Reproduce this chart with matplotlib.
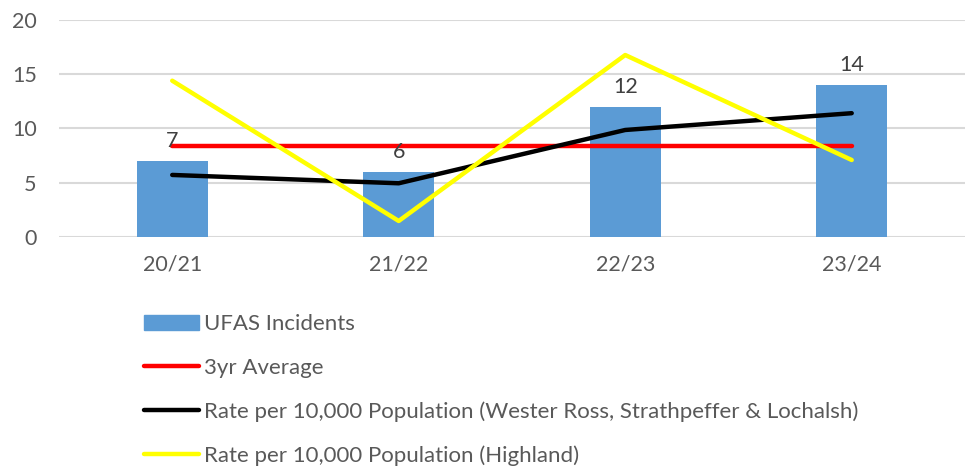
import matplotlib.pyplot as plt
import numpy as np
from matplotlib.patches import Patch
from matplotlib.lines import Line2D

plt.rcParams["font.family"] = ["Lato", "DejaVu Sans"]

years = ["20/21", "21/22", "22/23", "23/24"]
ufas = [7, 6, 12, 14]
avg_3yr = [8.33, 8.33, 8.33, 8.33]
rate_local = [5.7, 4.93, 9.85, 11.4]
rate_highland = [14.4, 1.45, 16.77, 7.08]

grey = "#595959"
fig = plt.figure(figsize=(9.7, 4.7), dpi=100)
ax = fig.add_axes([0.0608, 0.4964, 0.934, 0.461])

x = np.arange(len(years))
bars = ax.bar(x, ufas, width=0.313, color="#5B9BD5", zorder=2)
for xi, v in zip(x, ufas):
    ax.annotate(str(v), (xi, v), xytext=(0, 7), textcoords="offset points",
                ha="center", va="bottom", fontsize=15.5, color="#404040", zorder=5)

ax.plot(x, avg_3yr, color="#FF0000", lw=3.2, solid_capstyle="round", zorder=3)
ax.plot(x, rate_local, color="#000000", lw=3.2, solid_capstyle="round", zorder=3)
ax.plot(x, rate_highland, color="#FFFF00", lw=3.2, solid_capstyle="round", zorder=4)

ax.set_xlim(-0.5, 3.5)
ax.set_ylim(0, 20)
ax.set_yticks([0, 5, 10, 15, 20])
ax.set_xticks(x)
ax.set_xticklabels(years)
ax.yaxis.grid(True, color="#D9D9D9", lw=1.5, zorder=0)
ax.set_axisbelow(True)
for s in ax.spines.values():
    s.set_visible(False)
ax.tick_params(length=0, labelsize=15.5, colors=grey, pad=0)
ax.tick_params(axis="y", pad=16)
ax.tick_params(axis="x", pad=13)

handles = [
    Patch(color="#5B9BD5"),
    Line2D([], [], color="#FF0000", lw=3.2, solid_capstyle="round"),
    Line2D([], [], color="#000000", lw=3.2, solid_capstyle="round"),
    Line2D([], [], color="#FFFF00", lw=3.2, solid_capstyle="round"),
]
labels = [
    "UFAS Incidents",
    "3yr Average",
    "Rate per 10,000 Population (Wester Ross, Strathpeffer & Lochalsh)",
    "Rate per 10,000 Population (Highland)",
]
leg = fig.legend(handles, labels, loc="upper left", bbox_to_anchor=(0.148, 0.332),
                 frameon=False, fontsize=16, handlelength=2.5, handleheight=0.65,
                 handletextpad=0.2, labelspacing=1.06, borderpad=0, borderaxespad=0)
for t in leg.get_texts():
    t.set_color(grey)

fig.savefig("out.png", dpi=100)
